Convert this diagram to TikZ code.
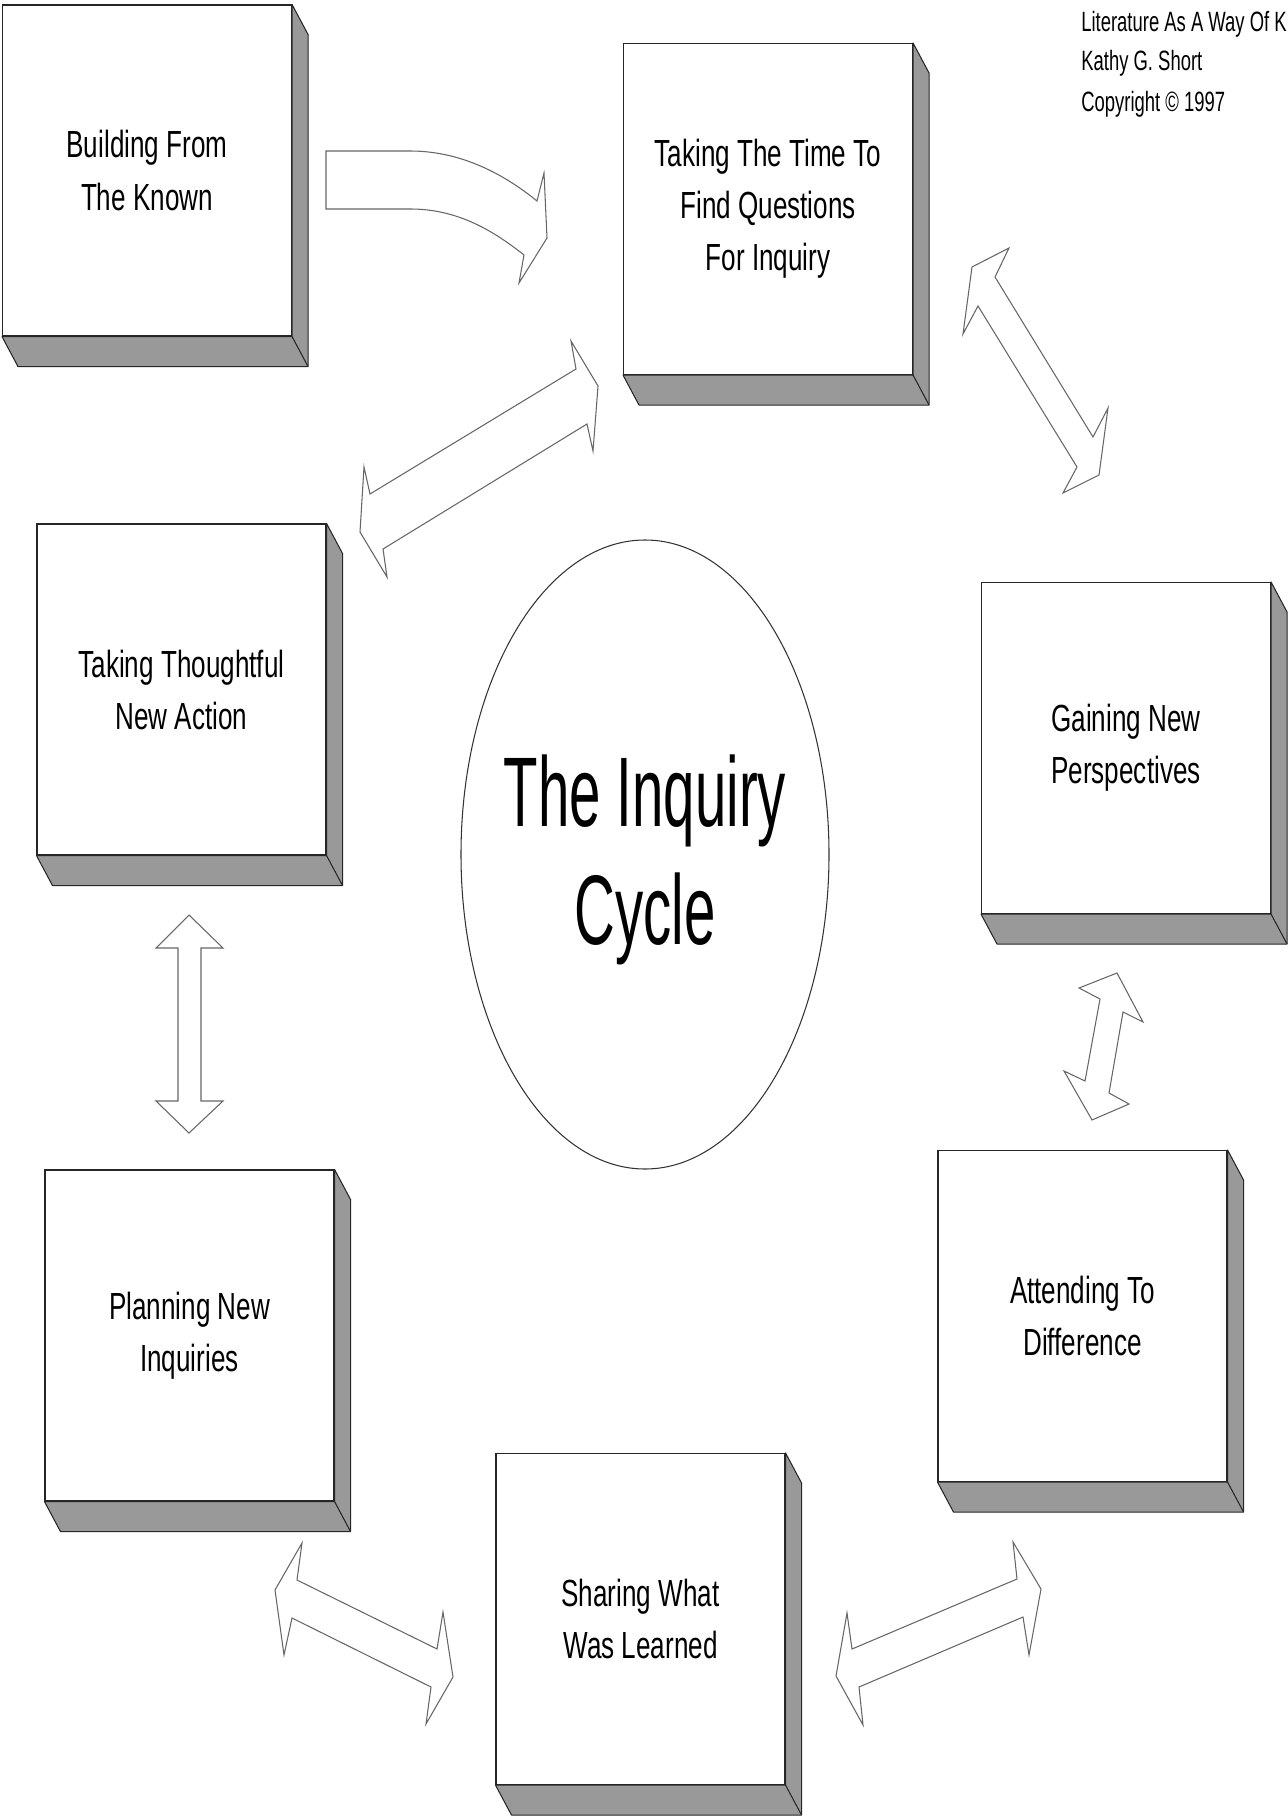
\documentclass[tikz,border=0pt]{standalone}
\usepackage{fontspec}
\setmainfont{Liberation Sans}[FakeStretch=0.69]
\newfontfamily\hugefont{Liberation Sans}[FakeStretch=0.57]
\newfontfamily\notefont{Liberation Sans}[FakeStretch=0.66]
\usetikzlibrary{shapes.geometric}
\definecolor{sidegray}{gray}{0.6}
\definecolor{rimgray}{gray}{0.4}

\newcommand{\slab}[4]{%
  \node [block] at (#2,#3) (#1) {#4};
  \draw [side] (#1.north east) -- ++(16,30) -- ([shift={(16,30)}]#1.south east)
    -- ([shift={(16,30)}]#1.south west) -- (#1.south west) -- (#1.south east) -- cycle;
  \draw [side] (#1.south east) -- ++(16,30);
}

\begin{document}
\begin{tikzpicture}[x=0.2mm,y=-0.2mm]
\tikzset{block/.style = {draw=black!85, fill=white, line width=0.6pt, inner sep=0pt,
    minimum width=57.8mm, minimum height=66.2mm, align=center,
    font=\fontsize{21.5}{29.6}\selectfont}}
\tikzset{side/.style = {draw=black!85, fill=sidegray, line width=0.6pt, line join=round}}
\tikzset{fat/.style = {draw=rimgray, fill=white, line width=0.6pt, line join=miter}}
\tikzset{note/.style = {inner sep=0pt, anchor=base west, font=\notefont\fontsize{15.9}{22.8}\selectfont}}
\useasboundingbox (0,0) rectangle (1288,1817);
\clip (0,0) rectangle (1288,1817);

\slab{known}{147}{170.5}{Building From\\The Known}
\slab{questions}{768}{209}{Taking The Time To\\Find Questions\\For Inquiry}
\slab{action}{181.5}{689.5}{Taking Thoughtful\\New Action}
\slab{perspectives}{1126}{748}{Gaining New\\Perspectives}
\slab{planning}{189.5}{1335.5}{Planning New\\Inquiries}
\slab{difference}{1082.5}{1316}{Attending To\\Difference}
\slab{sharing}{640.5}{1619}{Sharing What\\Was Learned}

\node [draw=black!80, line width=0.6pt, ellipse, inner sep=0pt, minimum width=73.6mm,
  minimum height=125.8mm] at (645,854.5) (hub) {};
\node [inner sep=0pt, align=center, font=\hugefont\fontsize{56.3}{67.2}\selectfont]
  at (645,860) (hubtext) {The Inquiry\\Cycle};

\node [note] at (1081,32) (ref1) {Literature As A Way Of K};
\node [note] at (1081,71) (ref2) {Kathy G. Short};
\node [note] at (1081,112) (ref3) {Copyright © 1997};

% known -> questions
\draw [fat] (326,151) -- (410,151) .. controls (462,151) and (505,175) .. (537,201)
  -- (544,173) -- (547,238) -- (519,283) -- (524,255)
  .. controls (490,228) and (455,209) .. (410,209) -- (326,209) -- cycle;
% questions <-> action
\draw [fat] (576,369) -- (571,341) -- (598,386) -- (593,451) -- (587,424) -- (383,549)
  -- (387,577) -- (360,532) -- (364,467) -- (370,494) -- cycle;
% questions <-> perspectives
\draw [fat] (995,277) -- (1009,248) -- (972,267) -- (963,334) -- (978,306) -- (1077,467)
  -- (1063,493) -- (1099,475) -- (1108,408) -- (1093,437) -- cycle;
% perspectives <-> difference
\draw [fat] (1079,988) -- (1117,973) -- (1143,1022) -- (1123,1012) -- (1109,1093)
  -- (1129,1104) -- (1092,1120) -- (1064,1071) -- (1085,1081) -- (1100,999) -- cycle;
% action <-> planning
\draw [fat] (189,915) -- (223,948) -- (201,948) -- (201,1101) -- (223,1101) -- (189,1133)
  -- (156,1101) -- (178,1101) -- (178,948) -- (156,948) -- cycle;
% planning <-> sharing
\draw [fat] (302,1543) -- (297,1580) -- (437,1649) -- (443,1612) -- (453,1677) -- (426,1724)
  -- (431,1687) -- (292,1618) -- (284,1655) -- (275,1590) -- cycle;
% sharing <-> difference
\draw [fat] (1013,1542) -- (1017,1579) -- (852,1649) -- (847,1613) -- (836,1676) -- (863,1725)
  -- (859,1687) -- (1023,1617) -- (1029,1655) -- (1041,1589) -- cycle;
\end{tikzpicture}
\end{document}
